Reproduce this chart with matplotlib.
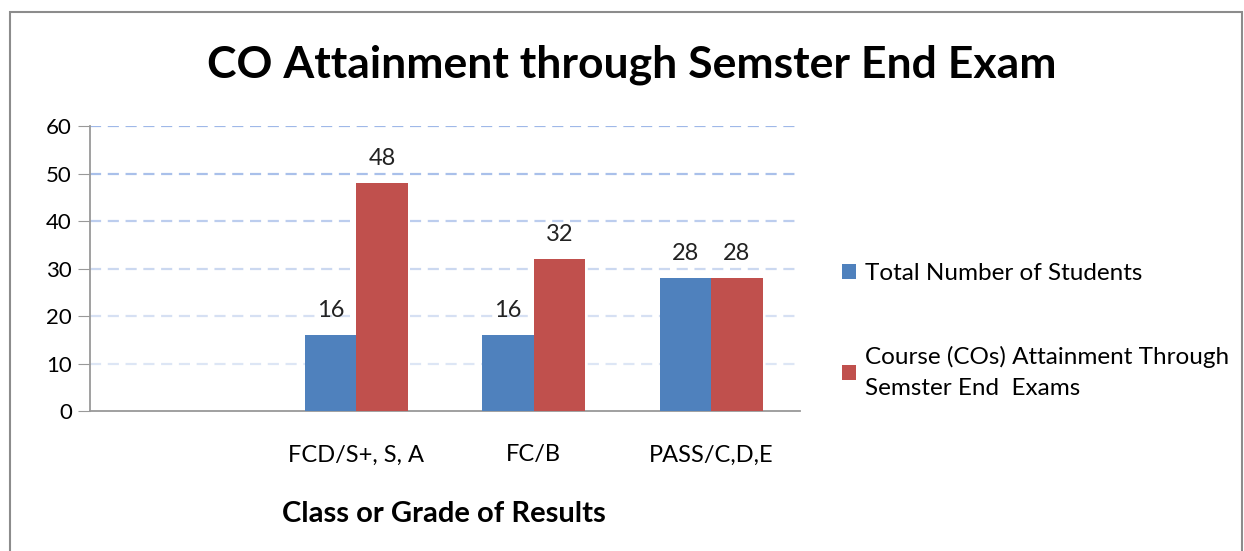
import matplotlib.pyplot as plt
import numpy as np
from matplotlib.patches import Rectangle

# Dados do gráfico
categorias = ['', 'FCD/S+, S, A', 'FC/B', 'PASS/C,D,E']
total_alunos = [0, 16, 16, 28]
atingimento = [0, 48, 32, 28]
rotulos_total = ['', '16', '16', '28']
rotulos_ating = ['', '48', '32', '28']
serie_total = 'Total Number of Students'
serie_ating = 'Course (COs) Attainment Through\nSemster End  Exams'

plt.rcParams['font.family'] = ['Lato', 'DejaVu Sans']

fig = plt.figure(figsize=(12.44, 5.51), dpi=100)
ax = fig.add_axes([0.0723, 0.254, 0.5707, 0.517])

x = np.arange(len(categorias))
largura = 0.29
azul = '#4f81bd'
vermelho = '#c0504d'

b1 = ax.bar(x - largura / 2, total_alunos, largura, color=azul, label=serie_total, zorder=3)
b2 = ax.bar(x + largura / 2, atingimento, largura, color=vermelho, label=serie_ating, zorder=3)

for barra, txt in zip(b1, rotulos_total):
    if txt:
        ax.text(barra.get_x() + barra.get_width() / 2, barra.get_height() + 3, txt,
                ha='center', va='bottom', fontsize=17, color='#222222')
for barra, txt in zip(b2, rotulos_ating):
    if txt:
        ax.text(barra.get_x() + barra.get_width() / 2, barra.get_height() + 3, txt,
                ha='center', va='bottom', fontsize=17, color='#222222')

ax.set_xlim(-0.5, 3.5)
ax.set_ylim(0, 60)
ax.set_yticks(range(0, 61, 10))
ax.set_xticks(x)
ax.set_xticklabels(categorias, fontsize=17)
ax.tick_params(axis='x', length=0, pad=24)
ax.tick_params(axis='y', length=9, color='#999999', labelsize=16, pad=4)

# grade tracejada, mais clara para baixo
cores_grade = {10: '#dde6f5', 20: '#d6e0f3', 30: '#cbd8f0', 40: '#bccdee', 50: '#a9c0ea', 60: '#9fb8e8'}
for y, c in cores_grade.items():
    ax.axhline(y, color=c, lw=1.6, ls=(0, (5, 3)), zorder=1)

for lado in ['top', 'right']:
    ax.spines[lado].set_visible(False)
ax.spines['left'].set_color('#999999')
ax.spines['bottom'].set_color('#999999')
ax.spines['left'].set_linewidth(1.3)
ax.spines['bottom'].set_linewidth(1.3)

ax.set_xlabel('Class or Grade of Results', fontsize=21, fontweight='bold')
ax.xaxis.set_label_coords(0.498, -0.315)

fig.text(0.508, 0.882, 'CO Attainment through Semster End Exam', ha='center', va='center',
         fontsize=32, fontweight='bold')

leg = fig.legend(handles=[b1, b2], loc='upper left', bbox_to_anchor=(0.659, 0.562), frameon=False,
                 fontsize=17.5, handlelength=0.6, handleheight=0.6, handletextpad=0.35,
                 labelspacing=2.55)
leg.get_texts()[1].set_linespacing(1.6)

fig.patches.append(Rectangle((0.008, -0.02), 0.99, 0.998, transform=fig.transFigure,
                             fill=False, edgecolor='#8c8c8c', lw=1.5))

fig.savefig('out.png', dpi=100)
